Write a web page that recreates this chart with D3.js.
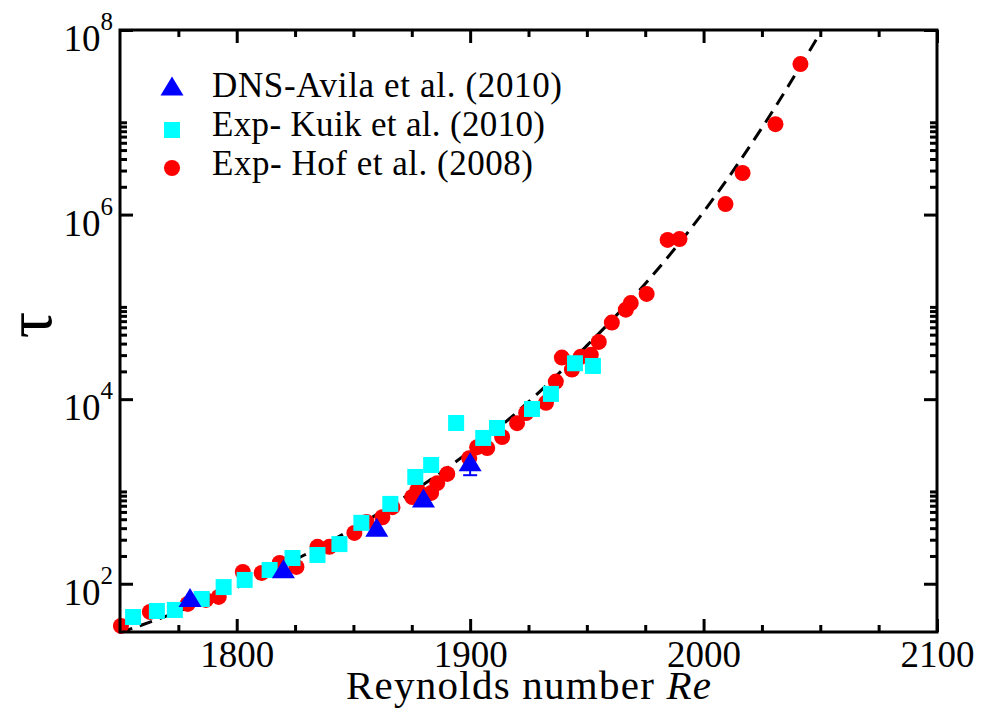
<!DOCTYPE html>
<html>
<head>
<meta charset="utf-8">
<script src="https://cdn.jsdelivr.net/npm/d3@7"></script>
<style>
  body { margin: 0; background: #fff; }
  svg { display: block; }
  text { font-family: "Liberation Serif", "Times New Roman", serif; fill: #000; }
</style>
</head>
<body>
<div id="chart"></div>
<script>
// --- data ---
// Avila et al. 2010 (DNS)
const dnsRe = [1780, 1820, 1860, 1880, 1900];
const dnsTau = [71, 145, 410, 850, 2100];
const dnsLow = [null, null, null, null, 1500]; // lower end of the only visible error bar

// Kuik et al. 2010 (exp)
const kuikRe = [1755.6, 1765.8, 1773.5, 1785, 1794.4, 1803.4, 1814.1, 1823.9, 1834.6, 1844,
  1853.4, 1865.8, 1876.5, 1883.3, 1894, 1905.6, 1911.5, 1926.5, 1934.6, 1944.9, 1952.6];
const kuikTau = [43.6, 50.7, 52, 68.4, 92, 110, 141, 190, 205, 269,
  457, 733, 1436, 1936, 5520, 3800, 4875, 7830, 11400, 24500, 22900];

// Hof et al. 2008 (exp)
const hofRe = [1750.4, 1762.8, 1779, 1786.8, 1792.3, 1802.6, 1810.7, 1818.4, 1825.6, 1834.6,
  1839.7, 1850.4, 1855.6, 1862.4, 1866.7, 1875.2, 1877.4, 1883.3, 1885.9, 1890.2,
  1899.6, 1903, 1907.3, 1913.7, 1920.1, 1924, 1932.5, 1936.7, 1939.3, 1943.6,
  1947.4, 1951.7, 1955.1, 1960.7, 1966.7, 1968.8, 1975.6, 1984.6, 1989.7, 2009.4,
  2016.7, 2030.8, 2041.5];
const hofTau = [34.9, 49.5, 60.4, 66.8, 71.9, 134, 131, 168, 152, 251,
  251, 355, 468, 525, 676, 871, 1038, 964, 1230, 1549,
  2291, 3020, 2951, 3890, 5495, 7080, 9120, 15500, 28200, 20900,
  28800, 30200, 41700, 67600, 93300, 110000, 138000, 531000, 543000, 1.30e6,
  2.82e6, 9.55e6, 4.27e7];

// dashed fit curve
const fitRe = [1750, 1775, 1800, 1825, 1850, 1875, 1900, 1925, 1950, 1975, 2000, 2025, 2050];
const fitTau = [29.5, 50, 91, 182, 398, 977, 2750, 9330, 38000, 178000, 1.07e6, 8.7e6, 9.3e7];

const xMajor = [1800, 1900, 2000, 2100];
const xMinor = [1775, 1825, 1850, 1875, 1925, 1950, 1975, 2025, 2050, 2075];
const yMajor = [1e2, 1e4, 1e6, 1e8];
const yMinor = [1e2, 1e4, 1e6].flatMap(d => [2, 3, 4, 5, 6, 7, 8, 9, 10].map(m => m * d));

const legendLabels = ["DNS-Avila et al. (2010)", "Exp- Kuik et al. (2010)", "Exp- Hof et al. (2008)"];

// --- layout ---
const width = 984, height = 712;
const plotL = 120, plotR = 937, plotT = 30, plotB = 632;
const serif = "Liberation Serif, Times New Roman, serif";

const svg = d3.select("#chart").append("svg")
  .attr("width", width)
  .attr("height", height);

const x = d3.scaleLinear().domain([1750, 2100]).range([plotL, plotR]);
const y = d3.scaleLog().domain([30, 1e8]).range([plotB, plotT]);

svg.append("clipPath").attr("id", "plot-clip")
  .append("rect").attr("x", plotL).attr("y", plotT).attr("width", plotR - plotL).attr("height", plotB - plotT);

// fit line
const line = d3.line()
  .x((d, i) => x(fitRe[i]))
  .y(d => y(d))
  .curve(d3.curveMonotoneX);

svg.append("path")
  .datum(fitTau)
  .attr("clip-path", "url(#plot-clip)")
  .attr("d", line)
  .attr("fill", "none")
  .attr("stroke", "#000")
  .attr("stroke-width", 3)
  .attr("stroke-dasharray", "13,8");

// markers
const triPath = "M0,-9.5L11.5,9.5L-11.5,9.5Z";

svg.append("g").selectAll("circle")
  .data(hofRe)
  .join("circle")
  .attr("cx", d => x(d))
  .attr("cy", (d, i) => y(hofTau[i]))
  .attr("r", 8)
  .attr("fill", "#ff0000");

svg.append("g").selectAll("rect")
  .data(kuikRe)
  .join("rect")
  .attr("x", d => x(d) - 8)
  .attr("y", (d, i) => y(kuikTau[i]) - 8)
  .attr("width", 16)
  .attr("height", 16)
  .attr("fill", "#00ffff");

const errG = svg.append("g").attr("stroke", "#0000ff").attr("stroke-width", 2);
dnsRe.forEach((re, i) => {
  if (dnsLow[i] == null) return;
  errG.append("line")
    .attr("x1", x(re)).attr("x2", x(re))
    .attr("y1", y(dnsTau[i])).attr("y2", y(dnsLow[i]));
  errG.append("line")
    .attr("x1", x(re) - 7).attr("x2", x(re) + 7)
    .attr("y1", y(dnsLow[i])).attr("y2", y(dnsLow[i]));
});

svg.append("g").selectAll("path")
  .data(dnsRe)
  .join("path")
  .attr("d", triPath)
  .attr("transform", (d, i) => `translate(${x(d)},${y(dnsTau[i])})`)
  .attr("fill", "#0000ff");

// axes (ticks inward on all four sides)
function styleAxis(g) {
  g.select(".domain").remove();
  g.attr("font-family", serif);
  g.selectAll(".tick line").attr("stroke", "#000").attr("stroke-width", 3);
}

svg.append("g").attr("transform", `translate(0,${plotB})`)
  .call(d3.axisBottom(x).tickValues(xMajor).tickSize(-13).tickPadding(9).tickFormat(d3.format("d")))
  .call(styleAxis)
  .call(g => g.selectAll("text").attr("font-size", 37));
svg.append("g").attr("transform", `translate(0,${plotB})`)
  .call(d3.axisBottom(x).tickValues(xMinor).tickSize(-7).tickFormat(""))
  .call(styleAxis);
svg.append("g").attr("transform", `translate(0,${plotT})`)
  .call(d3.axisTop(x).tickValues(xMajor).tickSize(-13).tickFormat(""))
  .call(styleAxis);
svg.append("g").attr("transform", `translate(0,${plotT})`)
  .call(d3.axisTop(x).tickValues(xMinor).tickSize(-7).tickFormat(""))
  .call(styleAxis);

svg.append("g").attr("transform", `translate(${plotL},0)`)
  .call(d3.axisLeft(y).tickValues(yMajor).tickSize(-13).tickFormat(""))
  .call(styleAxis);
svg.append("g").attr("transform", `translate(${plotL},0)`)
  .call(d3.axisLeft(y).tickValues(yMinor).tickSize(-7).tickFormat(""))
  .call(styleAxis);
svg.append("g").attr("transform", `translate(${plotR},0)`)
  .call(d3.axisRight(y).tickValues(yMajor).tickSize(-13).tickFormat(""))
  .call(styleAxis);
svg.append("g").attr("transform", `translate(${plotR},0)`)
  .call(d3.axisRight(y).tickValues(yMinor).tickSize(-7).tickFormat(""))
  .call(styleAxis);

// y tick labels as 10^n
const yLab = svg.append("g").selectAll("text")
  .data(yMajor)
  .join("text")
  .attr("x", 113)
  .attr("y", d => y(d) + 21)
  .attr("text-anchor", "end")
  .attr("font-family", serif)
  .attr("font-size", 37);
yLab.append("tspan").text("10");
yLab.append("tspan")
  .attr("dy", -21)
  .attr("font-size", 25)
  .text(d => Math.round(Math.log10(d)));

// frame
svg.append("rect")
  .attr("x", plotL).attr("y", plotT)
  .attr("width", plotR - plotL).attr("height", plotB - plotT)
  .attr("fill", "none")
  .attr("stroke", "#000")
  .attr("stroke-width", 3);

// axis titles
const xTitle = svg.append("text")
  .attr("x", (plotL + plotR) / 2)
  .attr("y", 699)
  .attr("text-anchor", "middle")
  .attr("font-size", 41)
  .attr("textLength", 365)
  .attr("lengthAdjust", "spacing");
xTitle.append("tspan").text("Reynolds number ");
xTitle.append("tspan").attr("font-style", "italic").text("Re");

svg.append("text")
  .attr("transform", "translate(51,325) rotate(-90)")
  .attr("text-anchor", "middle")
  .attr("font-size", 66)
  .text("τ");

// legend
const legendY = [97, 136, 175];
const legendMarkY = [86, 130, 168];
const legendW = [350, 333, 321];
const leg = svg.append("g");
leg.append("path").attr("d", triPath).attr("transform", `translate(172,${legendMarkY[0]})`).attr("fill", "#0000ff");
leg.append("rect").attr("x", 164).attr("y", legendMarkY[1] - 8).attr("width", 16).attr("height", 16).attr("fill", "#00ffff");
leg.append("circle").attr("cx", 172).attr("cy", legendMarkY[2]).attr("r", 8).attr("fill", "#ff0000");
leg.selectAll("text")
  .data(legendLabels)
  .join("text")
  .attr("x", 212)
  .attr("y", (d, i) => legendY[i])
  .attr("font-size", 35)
  .attr("textLength", (d, i) => legendW[i])
  .attr("lengthAdjust", "spacing")
  .text(d => d);
</script>
</body>
</html>
